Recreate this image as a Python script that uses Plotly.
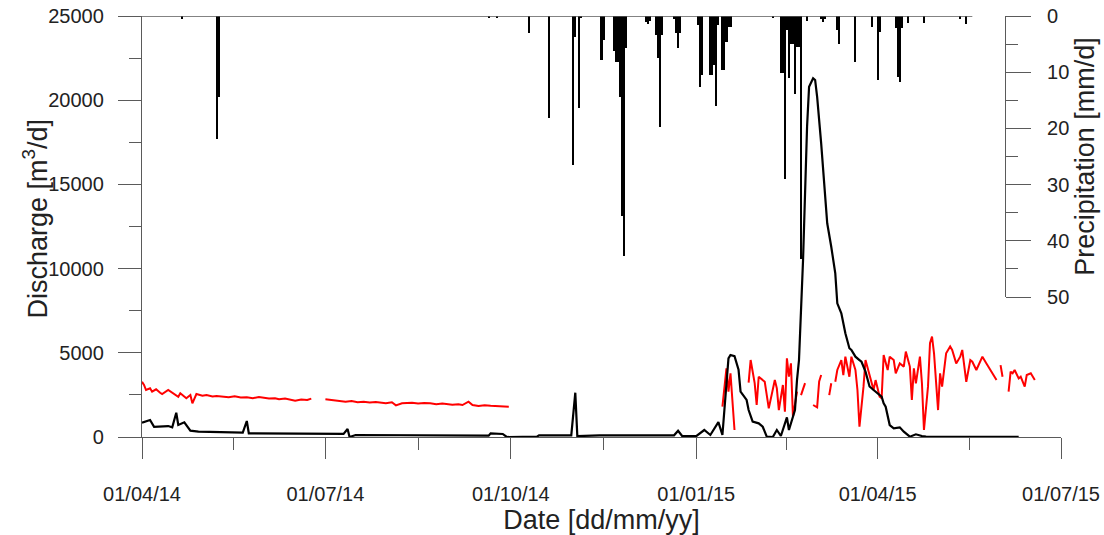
import pandas as pd
import plotly.graph_objects as go

START = pd.Timestamp("2014-04-01")

# Discharge [m3/d]; days counted from 01/04/14
q_day = [0, 1, 4, 6, 9, 13, 15, 17, 18, 21, 24, 28, 50, 52, 53, 78, 100, 102, 103, 106,
         128, 153, 172, 173, 179, 181, 187, 196, 197, 213, 215, 216, 227, 252, 264, 266,
         268, 275, 279, 282, 286, 288, 290, 291, 292, 294, 296, 297, 300, 301, 303, 306,
         308, 310, 313, 315, 317, 320, 321, 324, 325, 326, 328, 330, 331, 333, 334, 335,
         337, 339, 340, 342, 344, 345, 347, 349, 351, 352, 354, 356, 357, 359, 361, 363,
         365, 367, 368, 369, 371, 373, 376, 378, 381, 384, 387, 389, 400, 435]
q_val = [850, 900, 1010, 600, 620, 650, 575, 1440, 710, 870, 375, 315, 255, 950, 220, 200,
         180, 475, 0, 120, 100, 90, 80, 220, 180, 0, 20, 20, 100, 100, 2630, 50, 100, 90,
         100, 370, 60, 50, 415, 120, 880, 120, 3380, 4670, 4870, 4800, 4000, 2690, 2200,
         1600, 910, 810, 610, 20, 0, 415, 60, 1170, 415, 1600, 3380, 4570, 10500, 18430,
         20800, 21300, 21200, 20200, 17440, 13880, 12690, 11300, 9720, 7940, 7350, 6160,
         5270, 5170, 4770, 4570, 4470, 3880, 3000, 2790, 2600, 2390, 2000, 1800, 710, 520,
         575, 315, 20, 160, 60, 20, 10, 5]

# Second series [m3/d]; None marks missing records
r_day = [0, 1, 2, 4, 5, 7, 9, 10, 13, 15, 18, 19, 22, 24, 25, 27, 30, 32, 35, 37, 40, 43,
         46, 49, 52, 55, 58, 60, 63, 66, 68, 71, 74, 76, 79, 82, 84,
         88,
         91, 94, 97, 101, 104, 107, 110, 113, 116, 118, 121, 124, 126, 129, 132, 134, 137,
         140, 143, 146, 149, 151, 154, 157, 159, 162, 164, 167, 170, 173, 176, 179, 182,
         240,
         288, 290, 291, 292, 294,
         297,
         301, 302, 304, 305, 306, 309, 311, 313, 314, 315, 316, 318, 319, 320, 321, 322,
         323, 325,
         326,
         327, 329,
         331,
         333, 335, 336, 337,
         339,
         341, 342,
         343,
         344, 345, 347, 348, 349, 350, 351, 352, 354, 355, 356, 358, 359, 361, 363, 364,
         366, 367, 368, 370, 371, 373, 374, 376, 378, 379, 381, 382, 383, 384, 386, 387,
         388, 390, 391, 392, 393, 395, 396, 397, 399, 401, 402, 404, 406, 407, 409, 411,
         412, 414, 416, 417, 419, 421, 422, 424,
         425,
         426, 427,
         428,
         430, 431, 432, 433, 435, 436, 438, 439, 441, 443]
r_val = [3280, 3090, 2790, 2890, 2690, 2830, 2630, 2550, 2790, 2630, 2390, 2600, 2300, 2490,
         2000, 2550, 2450, 2490, 2400, 2430, 2380, 2360, 2420, 2340, 2360, 2300, 2380, 2330,
         2280, 2300, 2240, 2290, 2200, 2160, 2230, 2200, 2280,
         None,
         2240, 2200, 2150, 2100, 2140, 2070, 2100, 2050, 2080, 2040, 2000, 2060, 1880, 2000,
         2020, 2040, 1990, 2020, 2000, 1950, 1990, 1960, 1920, 1950, 1900, 2100, 1900, 1840,
         1880, 1850, 1840, 1820, 1800,
         None,
         1800, 4080, 2690, 3780, 415,
         None,
         3230, 4570, 3200, 1900, 3580, 3280, 1700, 2790, 3380, 2890, 1600, 3090, 1500, 4670,
         3580, 4370, 1200, 2690,
         None,
         2490, 3200,
         None,
         1900, 1760, 3300, 3680,
         None,
         2490, 3190,
         None,
         3280, 3980, 4570, 3680, 4770, 4180, 3580, 4770, 3980, 2790, 610, 2990, 4570, 3680,
         2790, 3380, 2390, 2300, 4870, 3980, 4770, 4570, 3780, 4370, 4180, 5070, 4180, 2200,
         4080, 3190, 4770, 3190, 415, 2990, 5570, 5960, 4970, 1600, 3780, 2990, 4970, 5370,
         5170, 4370, 4770, 5170, 3280, 4570, 4470, 3980, 4570, 4770, 4370, 3980, 3780, 3380,
         None,
         4270, 3580,
         None,
         2690, 3880, 3780, 3980, 3480, 3580, 2990, 3680, 3780, 3380]

# Precipitation [mm/d]
p_day = [20, 37, 38, 172, 176, 192, 202, 214, 215, 217, 218, 228, 229, 234, 235, 236, 237,
         238, 239, 240, 250, 251, 252, 255, 256, 257, 258, 264, 265, 266, 267, 276, 277,
         278, 282, 283, 284, 285, 286, 288, 289, 290, 291, 292, 313, 317, 318, 319, 320,
         321, 322, 323, 324, 325, 326, 327, 330, 337, 338, 339, 345, 346, 354, 362, 365,
         366, 374, 375, 376, 377, 380, 388, 406, 409]
p_val = [0.6, 21.9, 14.4, 0.3, 0.3, 3.1, 18.2, 26.6, 3.7, 16.4, 0.4, 7.9, 4.2, 6.3, 8.1,
         8.1, 14.5, 35.5, 42.7, 5.7, 1.0, 1.4, 0.8, 3.4, 7.5, 19.7, 3.4, 0.6, 3.1, 5.7, 3.1,
         1.6, 12.6, 10.5, 10.5, 10.5, 8.7, 16.1, 1.6, 9.6, 9.6, 4.6, 1.9, 1.9, 0.3, 10.2,
         10.2, 29.0, 2.5, 11.1, 4.9, 4.9, 13.8, 5.5, 5.5, 43.3, 0.8, 0.6, 1.0, 0.6, 2.5, 4.9,
         8.2, 1.9, 11.4, 2.8, 2.2, 10.8, 11.7, 2.2, 1.2, 1.2, 0.5, 1.5]
p_last_day = 412

# Axis ticks
x_major = ["2014-04-01", "2014-07-01", "2014-10-01", "2015-01-01", "2015-04-01", "2015-07-01"]
q_ticks = [0, 5000, 10000, 15000, 20000, 25000]
p_ticks = [0, 10, 20, 30, 40, 50]


def to_dates(days):
    return [START + pd.Timedelta(days=d) for d in days]


major_ts = pd.to_datetime(x_major)
x_minor = [a + (b - a) / 2 for a, b in zip(major_ts[:-1], major_ts[1:])]

FONT = "Arial, 'Liberation Sans', Helvetica, sans-serif"
AXIS = "#5a5a5a"
TXT = "#222222"

fig = go.Figure()

fig.add_trace(go.Scatter(
    x=to_dates(r_day), y=r_val, mode="lines", connectgaps=False,
    line=dict(color="#ff0000", width=2), xaxis="x", yaxis="y", showlegend=False,
))
fig.add_trace(go.Scatter(
    x=to_dates(q_day), y=q_val, mode="lines",
    line=dict(color="#000000", width=2.2), xaxis="x", yaxis="y", showlegend=False,
))
fig.add_trace(go.Bar(
    x=to_dates(p_day), y=p_val, width=86400000 * 1.05,
    marker=dict(color="#000000", line=dict(width=0)), xaxis="x", yaxis="y2",
    showlegend=False,
))

# baseline of the precipitation bars
fig.add_shape(type="line", xref="x", yref="y2",
              x0=START, x1=START + pd.Timedelta(days=p_last_day), y0=0, y1=0,
              line=dict(color=AXIS, width=1.3))

tickfont = dict(family=FONT, size=20, color=TXT)
titlefont = dict(family=FONT, size=27, color=TXT)

# left axis title, set as a rotated label beside the tick labels
fig.add_annotation(
    text="Discharge [m<sup>3</sup>/d]", xref="paper", yref="paper",
    x=-0.116, y=0.52, xanchor="center", yanchor="middle", textangle=-90,
    showarrow=False, font=titlefont,
)

fig.update_layout(
    width=1104, height=535,
    margin=dict(l=142, r=43, t=16, b=98),
    paper_bgcolor="white", plot_bgcolor="rgba(0,0,0,0)",
    bargap=0,
    xaxis=dict(
        type="date", range=[major_ts[0], major_ts[-1]], anchor="y", automargin=False,
        tickmode="array", tickvals=major_ts, tickformat="%d/%m/%y",
        ticks="outside", ticklen=21, tickwidth=1.3, tickcolor=AXIS,
        showline=True, linecolor=AXIS, linewidth=1.3,
        showgrid=False, zeroline=False, tickfont=tickfont, ticklabelstandoff=18,
        minor=dict(tickmode="array", tickvals=x_minor, ticks="outside", ticklen=12,
                   tickwidth=1.3, tickcolor=AXIS, showgrid=False),
        title=dict(text="Date [dd/mm/yy]", font=titlefont, standoff=4),
    ),
    yaxis=dict(
        range=[0, 25000], tickmode="array", tickvals=q_ticks, tickformat="d",
        automargin=False,
        ticks="outside", ticklen=23, tickwidth=1.3, tickcolor=AXIS,
        showline=True, linecolor=AXIS, linewidth=1.3,
        showgrid=False, zeroline=False, tickfont=tickfont, ticklabelstandoff=10,
        minor=dict(dtick=2500, ticks="outside", ticklen=12, tickwidth=1.3,
                   tickcolor=AXIS, showgrid=False),
    ),
    yaxis2=dict(
        domain=[140 / 421, 1],
        range=[50, 0], anchor="free", position=0.939, side="right", automargin=False,
        tickmode="array", tickvals=p_ticks,
        ticks="outside", ticklen=25, tickwidth=1.3, tickcolor=AXIS,
        showline=True, linecolor=AXIS, linewidth=1.3,
        showgrid=False, zeroline=False, tickfont=tickfont, ticklabelstandoff=12,
        minor=dict(dtick=5, ticks="outside", ticklen=12, tickwidth=1.3,
                   tickcolor=AXIS, showgrid=False),
        title=dict(text="Precipitation [mm/d]", font=titlefont, standoff=6),
    ),
)

fig.write_html("out.html")
